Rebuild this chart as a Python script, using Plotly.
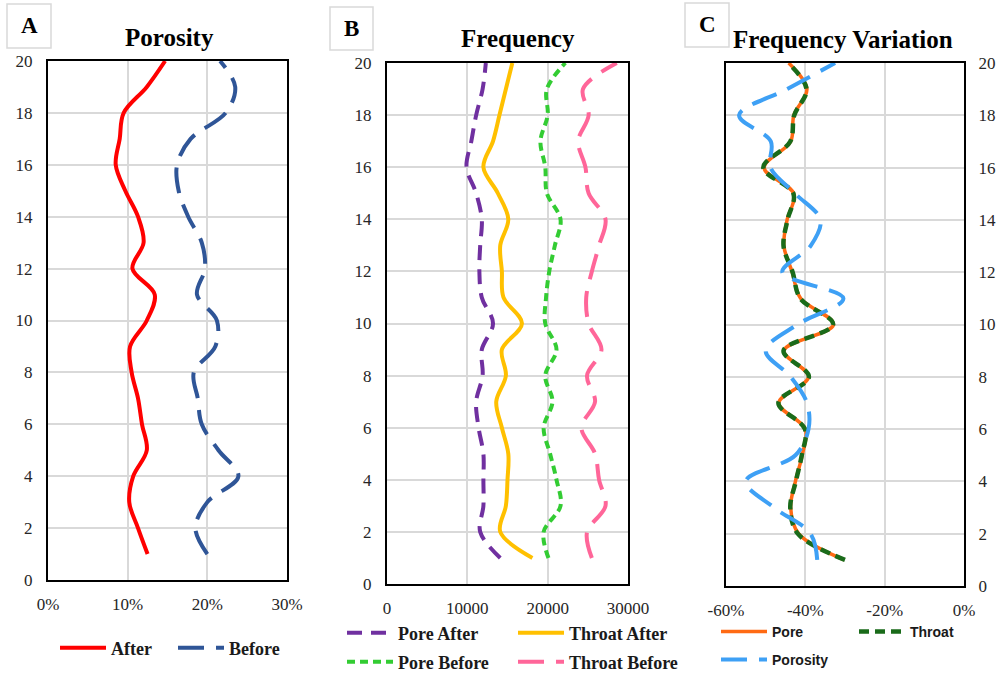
import plotly.graph_objects as go

# ---------------- data ----------------
depth = list(range(1, 21))

# Panel A: porosity (fraction)
poro_after = [0.125, 0.113, 0.102, 0.107, 0.124, 0.118, 0.113, 0.105, 0.103, 0.124,
              0.134, 0.106, 0.120, 0.113, 0.097, 0.085, 0.090, 0.095, 0.124, 0.147]
poro_before = [0.200, 0.185, 0.200, 0.239, 0.214, 0.193, 0.188, 0.183, 0.210, 0.212,
               0.187, 0.197, 0.193, 0.176, 0.164, 0.162, 0.179, 0.223, 0.235, 0.216]

# Panel B: frequency
pore_after = [14100, 11600, 12000, 12000, 12000, 11400, 11100, 11900, 11800, 13200,
              11800, 11500, 11600, 11800, 11100, 9900, 10500, 11100, 11900, 12300]
throat_after = [18100, 14100, 14800, 15000, 15100, 14300, 13600, 14800, 14300, 16800,
                14500, 14300, 14100, 15100, 13800, 12000, 13200, 14000, 14800, 15600]
pore_before = [20100, 19500, 21600, 21100, 20300, 19500, 20600, 19700, 21100, 19700,
               19800, 20200, 20900, 21600, 19900, 19700, 19100, 20000, 19900, 22200]
throat_before = [25500, 24900, 27200, 26400, 25900, 24200, 25900, 24900, 26700, 25100,
                 24800, 25500, 26400, 27200, 25100, 24700, 23800, 25100, 24400, 28600]

# Panel C: frequency variation (fraction)
var_pore = [-0.302, -0.417, -0.437, -0.425, -0.408, -0.400, -0.467, -0.392, -0.454, -0.329,
            -0.412, -0.433, -0.454, -0.446, -0.429, -0.504, -0.437, -0.429, -0.396, -0.442]
var_throat = [-0.300, -0.419, -0.438, -0.424, -0.409, -0.401, -0.468, -0.391, -0.455, -0.330,
              -0.413, -0.432, -0.455, -0.445, -0.430, -0.506, -0.438, -0.428, -0.397, -0.443]
var_porosity = [-0.370, -0.387, -0.479, -0.550, -0.425, -0.392, -0.396, -0.437, -0.500, -0.420,
                -0.304, -0.458, -0.387, -0.362, -0.425, -0.488, -0.487, -0.567, -0.446, -0.325]

# tick labels
y_ticks = list(range(0, 21, 2))
a_xticks = [0, 0.1, 0.2, 0.3]
a_xlabels = ["0%", "10%", "20%", "30%"]
b_xticks = [0, 10000, 20000, 30000]
b_xlabels = ["0", "10000", "20000", "30000"]
c_xticks = [-0.6, -0.4, -0.2, 0]
c_xlabels = ["-60%", "-40%", "-20%", "0%"]

W, H = 996, 673
SERIF = "Liberation Serif"

fig = go.Figure()

def add(x, name, color, dash, xa, ya, leg, width=4):
    fig.add_trace(go.Scatter(
        x=x, y=depth, mode="lines", name=name,
        line=dict(color=color, width=width, dash=dash, shape="spline", smoothing=1.0),
        xaxis=xa, yaxis=ya, legend=leg, hoverinfo="skip"))

LD = "26px,12px"
add(poro_after, "After", "#ff0000", "solid", "x", "y", "legend")
add(poro_before, "Before", "#2f5597", LD, "x", "y", "legend")

add(pore_after, "Pore After", "#7030a0", "15px,9px", "x2", "y2", "legend2")
add(throat_after, "Throat After", "#ffc000", "solid", "x2", "y2", "legend2")
add(pore_before, "Pore Before", "#33cc33", "8px,5px", "x2", "y2", "legend3")
add(throat_before, "Throat Before", "#ff6699", LD, "x2", "y2", "legend3")

add(var_pore, "Pore", "#ff6a13", "solid", "x3", "y3", "legend4", width=3.5)
add(var_throat, "Throat", "#1a6b1a", "10px,6px", "x3", "y3", "legend4", width=4.5)
add(var_porosity, "Porosity", "#3ea0f5", LD, "x3", "y3", "legend5")

def px(v):
    return v / W

def py(v):
    return 1 - v / H

def tf():
    return dict(family=SERIF, size=17, color="#262626")

def xax(dom, rng, tv, tt, anchor):
    return dict(domain=dom, range=rng, tickvals=tv, ticktext=tt, anchor=anchor,
                showline=True, linecolor="black", linewidth=2, mirror=True,
                showgrid=True, gridcolor="#d9d9d9", gridwidth=1.5, zeroline=False,
                ticks="", tickfont=tf(), ticklabelstandoff=8, fixedrange=True,
                automargin=False)

def yax(dom, anchor, side="left", standoff=10):
    return dict(domain=dom, anchor=anchor, side=side, range=[0, 20], tickvals=y_ticks,
                showline=True, linecolor="black", linewidth=2, mirror=True,
                showgrid=True, gridcolor="#d9d9d9", gridwidth=1.5, zeroline=False,
                ticks="", tickfont=tf(), ticklabelstandoff=standoff, fixedrange=True,
                automargin=False)

fig.update_layout(
    width=W, height=H, margin=dict(l=0, r=0, t=0, b=0, autoexpand=False),
    font=dict(family=SERIF, size=17, color="#262626"),
    paper_bgcolor="white", plot_bgcolor="white", showlegend=True,
    xaxis=xax([px(48), px(287)], [0, 0.3], a_xticks, a_xlabels, "y"),
    yaxis=yax([py(580), py(61)], "x"),
    xaxis2=xax([px(387), px(628)], [0, 30000], b_xticks, b_xlabels, "y2"),
    yaxis2=yax([py(584), py(63)], "x2"),
    xaxis3=xax([px(726), px(964)], [-0.6, 0], c_xticks, c_xlabels, "y3"),
    yaxis3=yax([py(586), py(63)], "x3", side="right", standoff=9),
)

leg_font = dict(family=SERIF, size=18, color="#1a1a1a", weight="bold")
sans_font = dict(family="Liberation Sans", size=14, color="#1a1a1a", weight="bold")

def legend(x, y, font, ew):
    return dict(x=px(x), y=py(y), xanchor="left", yanchor="middle", orientation="h",
                font=font, bgcolor="rgba(0,0,0,0)", entrywidth=ew, entrywidthmode="pixels",
                itemwidth=46, tracegroupgap=0, itemclick=False, itemdoubleclick=False)

fig.update_layout(
    legend=legend(55, 648, leg_font, 57),
    legend2=legend(342, 633, leg_font, 110),
    legend3=legend(342, 662, leg_font, 110),
    legend4=legend(716, 632, sans_font, 77),
    legend5=legend(716, 660, sans_font, 77),
)

# panel letter boxes
boxes = [("A", 7, 4, 51, 48), ("B", 330, 7, 373, 50), ("C", 685, 3, 729, 47)]
for letter, x0, y0, x1, y1 in boxes:
    fig.add_shape(type="rect", xref="paper", yref="paper",
                  x0=px(x0), x1=px(x1), y0=py(y1), y1=py(y0),
                  line=dict(color="#d9d9d9", width=1.5), fillcolor="white")
    fig.add_annotation(text=letter, xref="paper", yref="paper",
                       x=px((x0 + x1) / 2), y=py((y0 + y1) / 2),
                       showarrow=False, xanchor="center", yanchor="middle",
                       font=dict(family=SERIF, size=23, color="black", weight="bold"))

titles = [("Porosity", 169, 37), ("Frequency", 518, 38), ("Frequency Variation", 843, 39)]
for t, x, y in titles:
    fig.add_annotation(text=t, xref="paper", yref="paper", x=px(x), y=py(y),
                       showarrow=False, xanchor="center", yanchor="middle",
                       font=dict(family=SERIF, size=25, color="black", weight="bold"))

fig.write_html("out.html", config={"displayModeBar": False},
               post_script="document.body.style.margin='0';document.body.style.overflow='hidden';")
